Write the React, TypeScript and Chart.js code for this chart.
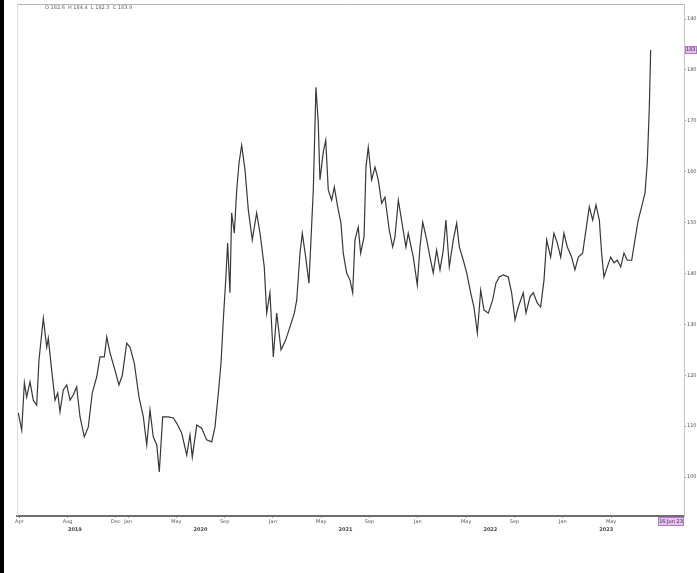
import React, { useEffect, useRef } from 'react';
import { Chart, registerables } from 'chart.js';

Chart.register(...registerables);

// Time in months from the first January shown (fractional), price values
const months = [
  -9.08, -8.8, -8.58, -8.39, -8.11, -7.84, -7.56, -7.37, -7.01, -6.73, -6.6, -6.32, -6.04, -5.82, -5.63, -5.36,
  -5.07, -4.8, -4.53, -4.25, -3.97, -3.62, -3.29, -2.96, -2.59, -2.32, -1.96, -1.76, -1.49, -1.08, -0.75, -0.47,
  -0.11, 0.17, 0.52, 0.91, 1.27, 1.55, 1.82, 2.09, 2.38, 2.59, 2.87, 3.34, 3.75, 4.03, 4.45, 4.86,
  5.13, 5.32, 5.69, 6.1, 6.51, 6.93, 7.2, 7.48, 7.7, 7.89, 8.09, 8.25, 8.44, 8.58, 8.8, 9.0,
  9.19, 9.41, 9.69, 9.96, 10.29, 10.65, 10.93, 11.28, 11.48, 11.75, 12.03, 12.31, 12.67, 13.05, 13.41, 13.77,
  13.97, 14.24, 14.43, 14.71, 14.98, 15.34, 15.56, 15.75, 15.89, 16.17, 16.37, 16.58, 16.86, 17.08, 17.36, 17.63,
  17.82, 18.1, 18.38, 18.6, 18.79, 19.06, 19.26, 19.54, 19.7, 19.89, 20.17, 20.45, 20.72, 21.0, 21.27, 21.63,
  21.91, 22.1, 22.38, 22.74, 23.01, 23.2, 23.62, 23.95, 24.17, 24.4, 24.73, 25.0, 25.27, 25.55, 25.83, 26.1,
  26.32, 26.6, 26.93, 27.21, 27.43, 27.76, 28.04, 28.37, 28.64, 28.92, 29.2, 29.47, 29.83, 30.19, 30.46, 30.74,
  31.07, 31.48, 31.76, 32.04, 32.31, 32.72, 32.95, 33.28, 33.55, 33.88, 34.16, 34.44, 34.66, 34.99, 35.26, 35.54,
  35.82, 36.09, 36.37, 36.73, 37.0, 37.28, 37.64, 37.91, 38.19, 38.47, 38.74, 39.02, 39.21, 39.4, 39.68, 39.96,
  40.23, 40.51, 40.79, 41.06, 41.33, 41.7, 41.97, 42.24, 42.52, 42.8, 42.99, 43.16, 43.27,
];

const prices = [
  112.6, 109.2, 118.5, 115.7, 118.7, 115.1, 114.1, 123.0, 131.2, 125.5, 127.3, 121.0, 115.1, 116.5, 112.8, 117.1,
  118.1, 115.1, 116.1, 117.7, 111.8, 107.9, 109.8, 116.5, 119.7, 123.6, 123.6, 127.5, 124.4, 121.0, 118.1, 120.0,
  126.3, 125.5, 122.4, 115.7, 111.8, 106.3, 113.2, 107.9, 106.3, 101.0, 111.8, 111.8, 111.6, 110.6, 108.6, 104.3,
  108.3, 103.9, 110.2, 109.6, 107.3, 106.9, 109.8, 116.5, 122.4, 130.9, 138.7, 146.0, 136.2, 151.9, 147.9, 156.4,
  161.7, 165.2, 160.3, 152.5, 146.6, 151.9, 147.9, 141.3, 132.2, 136.2, 123.6, 132.2, 125.0, 126.9, 129.5, 132.2,
  134.8, 144.0, 147.9, 143.2, 138.1, 156.4, 176.6, 169.6, 158.4, 163.9, 166.2, 156.4, 154.4, 157.0, 153.1, 149.9,
  144.0, 140.1, 138.7, 136.2, 146.6, 149.1, 144.0, 147.2, 160.9, 164.8, 158.4, 160.9, 158.4, 153.8, 155.0, 148.5,
  145.2, 147.2, 154.4, 149.1, 145.2, 147.9, 143.2, 137.7, 145.2, 150.1, 146.6, 143.2, 140.1, 144.6, 140.7, 144.6,
  150.5, 141.3, 146.6, 149.9, 145.2, 142.6, 140.1, 136.2, 133.4, 128.3, 136.7, 132.8, 132.2, 134.8, 138.1, 139.3,
  139.7, 139.3, 136.2, 130.9, 133.4, 136.2, 132.2, 135.4, 136.2, 134.2, 133.4, 138.7, 146.6, 143.2, 147.9, 146.0,
  143.2, 147.9, 145.2, 143.2, 140.7, 143.2, 144.0, 148.5, 153.1, 150.5, 153.5, 150.5, 144.0, 139.3, 141.3, 143.2,
  142.1, 142.6, 141.3, 144.0, 142.6, 142.6, 146.6, 150.5, 153.1, 155.8, 161.7, 172.7, 183.9,
];

const monthTickValues = [-9, -5, -1, 0, 4, 8, 12, 16, 20, 24, 28, 32, 36, 40];
const monthTickLabels = ['Apr', 'Aug', 'Dec', 'Jan', 'May', 'Sep', 'Jan', 'May', 'Sep', 'Jan', 'May', 'Sep', 'Jan', 'May'];
const yearTickValues = [-4.4, 6, 18, 30, 39.6];
const yearTickLabels = ['2019', '2020', '2021', '2022', '2023'];
const priceTicks = [100, 110, 120, 130, 140, 150, 160, 170, 180, 190];
const lastDateLabel = '16 Jun 23';
const headerText = 'O 182.6  H 184.4  L 182.3  C 183.9';

const X_MIN = -9.19;
const X_MAX = 46.03;
const Y_MIN = 92.34;
const Y_MAX = 192.95;

const FONT = '"DejaVu Sans", sans-serif';

const framePlugin = {
  id: 'frame',
  afterDraw(chart: any) {
    const { ctx, chartArea } = chart;
    const { left, right, top, bottom } = chartArea;
    ctx.save();
    ctx.strokeStyle = '#b5b5b5';
    ctx.lineWidth = 1;
    ctx.beginPath();
    ctx.moveTo(left, top + 0.5);
    ctx.lineTo(right, top + 0.5);
    ctx.stroke();
    ctx.strokeStyle = '#dddddd';
    ctx.beginPath();
    ctx.moveTo(left + 0.5, top);
    ctx.lineTo(left + 0.5, bottom);
    ctx.stroke();

    // header text
    ctx.font = `5px ${FONT}`;
    ctx.fillStyle = '#666';
    ctx.textBaseline = 'middle';
    ctx.textAlign = 'left';
    ctx.fillText(headerText, 45, 8);

    // year row under the month labels, placed through the x scale
    const xScale = chart.scales.x;
    ctx.font = `bold 5px ${FONT}`;
    ctx.fillStyle = '#444';
    ctx.textAlign = 'center';
    yearTickValues.forEach((v, i) => {
      ctx.fillText(yearTickLabels[i], xScale.getPixelForValue(v), bottom + 14);
    });

    // last value label on the price axis
    const yScale = chart.scales.y;
    const lastPrice = prices[prices.length - 1];
    const py = yScale.getPixelForValue(lastPrice);
    ctx.fillStyle = '#e7bff2';
    ctx.strokeStyle = '#b27ac8';
    ctx.fillRect(right + 1, py - 4, 12, 8);
    ctx.strokeRect(right + 1.5, py - 3.5, 11, 7);
    ctx.fillStyle = '#333';
    ctx.font = `5px ${FONT}`;
    ctx.textAlign = 'left';
    ctx.fillText(lastPrice.toFixed(1), right + 2, py);

    // last date label on the time axis
    ctx.fillStyle = '#e7bff2';
    ctx.fillRect(right - 26, bottom + 1, 26, 9);
    ctx.strokeStyle = '#b27ac8';
    ctx.strokeRect(right - 25.5, bottom + 1.5, 25, 8);
    ctx.fillStyle = '#333';
    ctx.textAlign = 'center';
    ctx.fillText(lastDateLabel, right - 13, bottom + 6);
    ctx.restore();
  },
};

export default function App() {
  const canvasRef = useRef<HTMLCanvasElement | null>(null);

  useEffect(() => {
    document.body.style.margin = '0';
    const canvas = canvasRef.current;
    if (!canvas) return;
    const chart = new Chart(canvas, {
      type: 'line',
      data: {
        datasets: [
          {
            data: months.map((m, i) => ({ x: m, y: prices[i] })),
            borderColor: '#383838',
            borderWidth: 1.2,
            pointRadius: 0,
            tension: 0,
            fill: false,
          },
        ],
      },
      options: {
        responsive: true,
        maintainAspectRatio: false,
        animation: false,
        layout: { padding: { left: 17, top: 4, right: 0, bottom: 48 } },
        plugins: { legend: { display: false }, tooltip: { enabled: false } },
        scales: {
          x: {
            type: 'linear',
            position: 'bottom',
            min: X_MIN,
            max: X_MAX,
            afterBuildTicks: (s: any) => {
              s.ticks = monthTickValues.map((v) => ({ value: v }));
            },
            afterFit: (s: any) => {
              s.height = 9;
            },
            ticks: {
              autoSkip: false,
              maxRotation: 0,
              padding: 1,
              color: '#555',
              font: { size: 5, family: FONT },
              callback: (_v: any, i: number) => monthTickLabels[i],
            },
            grid: { drawOnChartArea: false, drawTicks: true, tickLength: 2, color: '#aaa' },
            border: { display: true, color: '#6e6e6e', width: 2 },
          },
          y: {
            type: 'linear',
            position: 'right',
            min: Y_MIN,
            max: Y_MAX,
            afterBuildTicks: (s: any) => {
              s.ticks = priceTicks.map((v) => ({ value: v }));
            },
            afterFit: (s: any) => {
              s.width = 13;
            },
            ticks: {
              padding: 1,
              color: '#555',
              font: { size: 5, family: FONT },
              callback: (v: any) => String(v),
            },
            grid: { drawOnChartArea: false, drawTicks: true, tickLength: 2, color: '#999' },
            border: { display: true, color: '#c4c4c4', width: 1 },
          },
        },
      },
      plugins: [framePlugin],
    } as any);
    return () => chart.destroy();
  }, []);

  return (
    <div style={{ position: 'absolute', left: 0, top: 0, width: 697, height: 573, background: '#fff' }}>
      <canvas ref={canvasRef} />
      <div style={{ position: 'absolute', left: 0, top: 0, width: 4, height: 573, background: '#000' }} />
    </div>
  );
}
